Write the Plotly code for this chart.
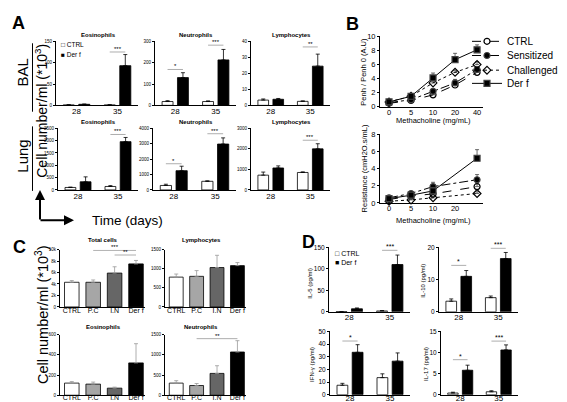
import plotly.graph_objects as go

W, H = 567, 402
FONT = "Liberation Sans, Arial, sans-serif"

# ---------------- data ----------------
days = ["28", "35"]
groups_c = ["CTRL", "P.C", "I.N", "Der f"]
doses = ["0", "5", "10", "20", "40"]
doses_res = ["0", "5", "10", "40"]

# A - BAL (mean, top of error bar)
bal_eos_ctrl, bal_eos_ctrl_top = [1, 1], [1.5, 1.5]
bal_eos_derf, bal_eos_derf_top = [2.5, 93], [3, 119]
bal_neu_ctrl, bal_neu_ctrl_top = [18, 18], [22, 21]
bal_neu_derf, bal_neu_derf_top = [130, 213], [153, 262]
bal_lym_ctrl, bal_lym_ctrl_top = [3.3, 2.5], [4.0, 2.8]
bal_lym_derf, bal_lym_derf_top = [3.8, 24.5], [4.3, 32]
# A - Lung
lung_eos_ctrl, lung_eos_ctrl_top = [100, 140], [115, 175]
lung_eos_derf, lung_eos_derf_top = [330, 1960], [530, 2130]
lung_neu_ctrl, lung_neu_ctrl_top = [290, 560], [370, 590]
lung_neu_derf, lung_neu_derf_top = [1250, 2980], [1540, 3380]
lung_lym_ctrl, lung_lym_ctrl_top = [720, 850], [870, 880]
lung_lym_derf, lung_lym_derf_top = [1070, 2000], [1170, 2250]

# B - Penh and resistance
penh_ctrl, penh_ctrl_top = [0.5, 0.9, 1.7, 3.1, 4.9], [0.6, 1.0, 1.9, 3.4, 5.1]
penh_sens, penh_sens_top = [0.6, 1.0, 2.2, 3.4, 5.3], [0.7, 1.1, 2.5, 3.9, 5.6]
penh_chal, penh_chal_top = [0.7, 1.5, 3.4, 4.9, 6.0], [0.8, 1.6, 3.7, 5.2, 6.4]
penh_derf, penh_derf_top = [0.7, 1.5, 4.1, 6.7, 8.1], [0.85, 1.7, 4.8, 7.6, 8.8]
penh_stars = ["", "", "*", "***", "***"]
res_ctrl, res_ctrl_top = [0.4, 0.8, 1.05, 1.9], [0.5, 0.9, 1.3, 2.3]
res_sens, res_sens_top = [0.6, 1.1, 1.9, 2.7], [0.7, 1.2, 2.4, 3.3]
res_chal, res_chal_top = [0.2, 0.35, 0.6, 1.1], [0.3, 0.45, 0.8, 1.3]
res_derf, res_derf_top = [0.5, 0.9, 1.4, 5.2], [0.6, 1.0, 1.8, 6.2]
res_stars = ["", "", "", "***"]

# C - lung cells by group
c_total, c_total_top = [4300, 4300, 5900, 7500], [4600, 4700, 7000, 8100]
c_lym, c_lym_top = [780, 800, 1030, 1080], [860, 950, 1350, 1160]
c_eos, c_eos_top = [120, 110, 70, 320], [135, 130, 80, 510]
c_neu, c_neu_top = [300, 240, 540, 1070], [360, 290, 730, 1350]
c_colors = ["white", "#a6a6a6", "#666666", "black"]

# D - cytokines
il5_ctrl, il5_ctrl_top = [0.5, 2], [0.8, 3]
il5_derf, il5_derf_top = [7, 110], [9, 132]
il10_ctrl, il10_ctrl_top = [3.3, 4.4], [4.0, 4.9]
il10_derf, il10_derf_top = [11, 16.5], [12.8, 18.4]
ifn_ctrl, ifn_ctrl_top = [7.5, 13.5], [9, 16.5]
ifn_derf, ifn_derf_top = [33.5, 26.5], [39.5, 33]
il17_ctrl, il17_ctrl_top = [0.4, 0.7], [0.6, 0.95]
il17_derf, il17_derf_top = [5.8, 10.6], [7.0, 11.8]

# ---------------- figure ----------------
fig = go.Figure()
layout = dict(width=W, height=H, margin=dict(l=0, r=0, t=0, b=0),
              paper_bgcolor="white", plot_bgcolor="white",
              font=dict(family=FONT, color="black"), barmode="overlay")
annotations, shapes = [], []
count = [0]

BW, BC = 0.27, 0.19  # bar width and centre offset for 2-bar groups


def text(x, y, s, size, angle=0, bold=False, xanchor="center", yanchor="middle"):
    if bold:
        s = "<b>" + s + "</b>"
    annotations.append(dict(xref="paper", yref="paper", x=x / W, y=1 - y / H, text=s,
                            showarrow=False, textangle=angle, xanchor=xanchor, yanchor=yanchor,
                            font=dict(size=size)))


def new_axes(xdom, ydom, yrange, dtick, xkw, ykw):
    count[0] += 1
    s = "" if count[0] == 1 else str(count[0])
    base = dict(showline=True, linecolor="black", linewidth=1, showgrid=False,
                zeroline=False, tickcolor="black", tickwidth=1, fixedrange=True)
    layout["xaxis" + s] = dict(base, domain=[xdom[0] / W, xdom[1] / W], anchor="y" + s,
                               ticks="", **xkw)
    layout["yaxis" + s] = dict(base, domain=[1 - ydom[1] / H, 1 - ydom[0] / H], anchor="x" + s,
                               range=yrange, dtick=dtick, ticks="outside", ticklen=2, **ykw)
    return "x" + s, "y" + s


def err(vals, tops, col, w=2):
    return dict(type="data", symmetric=False, array=[t - v for v, t in zip(vals, tops)],
                arrayminus=[0] * len(vals), color=col, thickness=0.8, width=w)


def pair_panel(xdom, ydom, ymax, dtick, ctrl, ctrl_top, derf, derf_top,
               tick_size, lab_size, sig, star_size, standoff=-2):
    xr, yr = new_axes(xdom, ydom, [0, ymax], dtick,
                      dict(type="category", categoryarray=days, range=[-0.5, 1.5],
                           ticklabelstandoff=standoff, tickfont=dict(size=lab_size)),
                      dict(tickfont=dict(size=tick_size)))
    for vals, tops, fill, off in ((ctrl, ctrl_top, "white", -BC - BW / 2),
                                  (derf, derf_top, "black", BC - BW / 2)):
        fig.add_trace(go.Bar(x=days, y=vals, xaxis=xr, yaxis=yr, width=BW, offset=off,
                             marker=dict(color=fill, line=dict(color="black", width=0.8)),
                             error_y=err(vals, tops, "black"), showlegend=False))
    for i, lab, yv in sig:
        shapes.append(dict(type="line", xref=xr, yref=yr, x0=i - BC, x1=i + BC, y0=yv, y1=yv,
                           line=dict(color="#999", width=0.8)))
        annotations.append(dict(xref=xr, yref=yr, x=i, y=yv, text=lab, showarrow=False,
                                yanchor="bottom", yshift=-2, font=dict(size=star_size)))


def group_panel(xdom, ydom, ymax, dtick, vals, tops, sig, standoff=-3):
    xr, yr = new_axes(xdom, ydom, [0, ymax], dtick,
                      dict(type="category", categoryarray=groups_c, range=[-0.55, 3.42],
                           ticklabelstandoff=standoff, tickfont=dict(size=7)),
                      dict(tickfont=dict(size=4.5)))
    fig.add_trace(go.Bar(x=groups_c, y=vals, xaxis=xr, yaxis=yr, width=0.68,
                         marker=dict(color=c_colors, line=dict(color="black", width=0.8)),
                         error_y=err(vals, tops, "#999"), showlegend=False))
    for i0, i1, lab, yv in sig:
        shapes.append(dict(type="line", xref=xr, yref=yr, x0=i0, x1=i1, y0=yv, y1=yv,
                           line=dict(color="#999", width=0.8)))
        annotations.append(dict(xref=xr, yref=yr, x=(i0 + i1) / 2, y=yv, text=lab,
                                showarrow=False, yanchor="bottom", yshift=-2, font=dict(size=6)))


# ---- panel A ----
pair_panel([48, 130], [30, 95.5], 150, 50, bal_eos_ctrl, bal_eos_ctrl_top, bal_eos_derf,
           bal_eos_derf_top, 4.5, 8, [(1, "***", 125)], 6)
pair_panel([147, 228], [30, 95.5], 300, 100, bal_neu_ctrl, bal_neu_ctrl_top, bal_neu_derf,
           bal_neu_derf_top, 4.5, 8, [(0, "*", 168), (1, "***", 282)], 6)
pair_panel([243, 322], [30, 95.5], 40, 10, bal_lym_ctrl, bal_lym_ctrl_top, bal_lym_derf,
           bal_lym_derf_top, 4.5, 8, [(1, "**", 36.5)], 6)
pair_panel([50, 130], [119, 182], 2500, 500, lung_eos_ctrl, lung_eos_ctrl_top, lung_eos_derf,
           lung_eos_derf_top, 4.5, 8, [(1, "***", 2250)], 6)
pair_panel([145, 228], [119, 182], 4000, 1000, lung_neu_ctrl, lung_neu_ctrl_top, lung_neu_derf,
           lung_neu_derf_top, 4.5, 8, [(0, "*", 1700), (1, "***", 3650)], 6)
pair_panel([243, 322], [119, 182], 3000, 1000, lung_lym_ctrl, lung_lym_ctrl_top, lung_lym_derf,
           lung_lym_derf_top, 4.5, 8, [(1, "***", 2420)], 6)

for x, y, s in ((90, 24, "Eosinophils"), (188, 24, "Neutrophils"), (283, 24, "Lymphocytes"),
                (90, 113, "Eosinophils"), (188, 113, "Neutrophils"), (283, 113, "Lymphocytes")):
    text(x, y, s, 6, bold=True)
text(51, 33, "□ CTRL", 6.5, xanchor="left")
text(51, 43, "■ Der f", 6.5, xanchor="left")

text(10, 11, "A", 18, bold=True)
text(15, 62, "BAL", 15, angle=-90)
text(15, 148, "Lung", 15, angle=-90)
text(33, 101, "Cell number/ml (*10<sup>3</sup>)", 14, angle=-90)
text(82, 213, "Time (days)", 13.5, xanchor="left")
for y0, y1 in ((32, 102), (117, 183)):
    shapes.append(dict(type="line", xref="paper", yref="paper", x0=24.5 / W, x1=24.5 / W,
                       y0=1 - y0 / H, y1=1 - y1 / H, line=dict(color="black", width=1)))
for tipx, tipy, ax, ay in ((32, 182, 0, 31), (66, 213, -35, 0)):
    annotations.append(dict(xref="paper", yref="paper", x=tipx / W, y=1 - tipy / H, ax=ax, ay=ay,
                            text="", showarrow=True, arrowhead=2, arrowwidth=2, arrowsize=1,
                            arrowcolor="black"))

# ---- panel B ----
series = (("CTRL", "circle-open", "dash"), ("Sensitized", "circle", "dashdot"),
          ("Challenged", "diamond-open", "dot"), ("Der f", "square", "solid"))
penh_vals = ((penh_ctrl, penh_ctrl_top), (penh_sens, penh_sens_top),
             (penh_chal, penh_chal_top), (penh_derf, penh_derf_top))
res_vals = ((res_ctrl, res_ctrl_top), (res_sens, res_sens_top),
            (res_chal, res_chal_top), (res_derf, res_derf_top))
legend_ids = ["legend", "legend2", "legend3", "legend4"]
legend_rows = [30, 44.5, 59.5, 73]

xr, yr = new_axes([372, 475], [25, 97], [0, 10], 2,
                  dict(type="category", categoryarray=doses, range=[-0.41, 4.27],
                       ticklabelstandoff=-2, tickfont=dict(size=7.5)),
                  dict(tickfont=dict(size=7.5)))
for (name, sym, dash), (vals, tops), lg in zip(series, penh_vals, legend_ids):
    fig.add_trace(go.Scatter(x=doses, y=vals, xaxis=xr, yaxis=yr, name=name, legend=lg,
                             mode="lines+markers",
                             line=dict(color="black", width=1, dash=dash),
                             marker=dict(symbol=sym, size=6, color="black", line=dict(width=1.2)),
                             error_y=err(vals, tops, "#444"), cliponaxis=False))
for d, s, t in zip(doses, penh_stars, penh_derf_top):
    if s:
        annotations.append(dict(xref=xr, yref=yr, x=d, y=t, text=s, showarrow=False,
                                yanchor="bottom", yshift=-1, font=dict(size=7)))

xr, yr = new_axes([372, 475], [125, 195.3], [0, 8], 2,
                  dict(type="category", categoryarray=doses, range=[-0.41, 4.27],
                       tickvals=doses, ticktext=["0", "5", "10", "20", " "],
                       ticklabelstandoff=-2, tickfont=dict(size=7.5)),
                  dict(tickfont=dict(size=7.5)))
for (name, sym, dash), (vals, tops) in zip(series, res_vals):
    fig.add_trace(go.Scatter(x=doses_res, y=vals, xaxis=xr, yaxis=yr, name=name,
                             mode="lines+markers", showlegend=False,
                             line=dict(color="black", width=1, dash=dash),
                             marker=dict(symbol=sym, size=6, color="black", line=dict(width=1.2)),
                             error_y=err(vals, tops, "#444"), cliponaxis=False))
for d, s, t in zip(doses_res, res_stars, res_derf_top):
    if s:
        annotations.append(dict(xref=xr, yref=yr, x=d, y=t, text=s, showarrow=False,
                                yanchor="bottom", yshift=-1, font=dict(size=7)))

text(344, 12, "B", 18, bold=True)
text(356, 61, "Penh / Penh 0 (A.U)", 7.5, angle=-90)
text(356, 160, "Resistance (cmH2O.s/mL)", 7.5, angle=-90)
text(425, 111, "Methacholine (mg/mL)", 7.5)
text(425, 213, "Methacholine (mg/mL)", 7.5)

for lg, row in zip(legend_ids, legend_rows):
    layout[lg] = dict(x=459 / W, y=1 - row / H, xanchor="left", yanchor="middle",
                      font=dict(size=10), bgcolor="rgba(0,0,0,0)", itemwidth=30)

# ---- panel C ----
group_panel([52, 137], [243, 301.7], 10000, 2000, c_total, c_total_top,
            [(1, 3, "***", 9850), (2, 3, "**", 9050)])
group_panel([157, 238], [243, 301.7], 1500, 500, c_lym, c_lym_top, [])
group_panel([52, 137], [330, 392], 600, 200, c_eos, c_eos_top, [], standoff=-5)
group_panel([157, 238], [330, 392], 1500, 500, c_neu, c_neu_top, [(1, 3, "**", 1400)],
            standoff=-5)

for x, y, s in ((95, 233, "Total cells"), (193, 233, "Lymphocytes"),
                (95, 322, "Eosinophils"), (193, 322, "Neutrophils")):
    text(x, y, s, 6, bold=True)
text(11, 240, "C", 18, bold=True)
text(34, 310, "Cell number/ml (*10<sup>3</sup>)", 14.5, angle=-90)

# ---- panel D ----
pair_panel([321, 402], [240.7, 306.7], 150, 50, il5_ctrl, il5_ctrl_top, il5_derf, il5_derf_top,
           6.5, 8, [(1, "***", 143)], 7)
pair_panel([431, 510], [240.7, 306.7], 20, 10, il10_ctrl, il10_ctrl_top, il10_derf,
           il10_derf_top, 6.5, 8, [(0, "*", 14.4), (1, "***", 19.7)], 7)
pair_panel([322, 402], [326.7, 391.5], 50, 10, ifn_ctrl, ifn_ctrl_top, ifn_derf, ifn_derf_top,
           6.5, 8, [(0, "*", 42.4)], 7, standoff=-4)
pair_panel([433, 510], [326.7, 391.5], 15, 5, il17_ctrl, il17_ctrl_top, il17_derf,
           il17_derf_top, 6.5, 8, [(0, "*", 8.3), (1, "***", 12.7)], 7, standoff=-4)

text(300, 235, "D", 18, bold=True)
text(302, 278, "IL-5 (pg/ml)", 6, angle=-90)
text(415, 275, "IL-10 (pg/ml)", 6, angle=-90)
text(304, 361, "IFN-γ (pg/ml)", 6, angle=-90)
text(418, 360, "IL-17 (pg/ml)", 6, angle=-90)
text(325, 247, "□ CTRL", 7, xanchor="left")
text(325, 256, "■ Der f", 7, xanchor="left")

layout["annotations"] = annotations
layout["shapes"] = shapes
fig.update_layout(**layout)
fig.write_html("out.html")
